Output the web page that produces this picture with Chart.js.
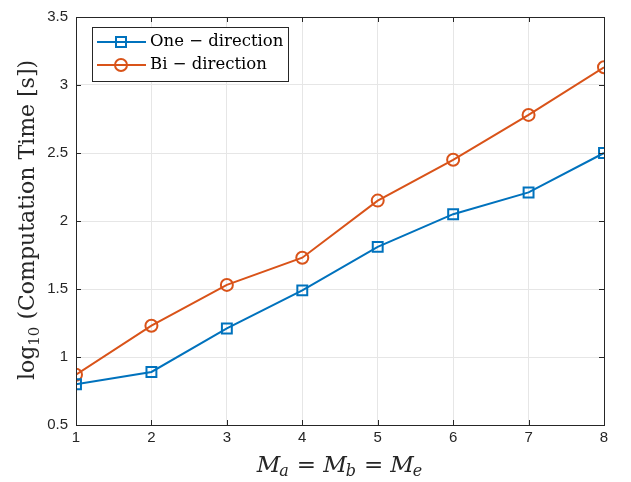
<!DOCTYPE html>
<html>
<head>
<meta charset="utf-8">
<script src="https://cdn.jsdelivr.net/npm/chart.js@4"></script>
<style>
  html, body { margin: 0; padding: 0; background: #fff; }
  #wrap { width: 631px; height: 482px; }
</style>
</head>
<body>
<div id="wrap"><canvas id="grafico" width="631" height="482"></canvas></div>
<script>
// datos
const tamanos = [1, 2, 3, 4, 5, 6, 7, 8];
const unaDireccion = [0.80, 0.89, 1.21, 1.49, 1.81, 2.05, 2.21, 2.50];
const biDireccion = [0.87, 1.23, 1.53, 1.73, 2.15, 2.45, 2.78, 3.13];
const etiquetasSerie = ["One \u2212 direction", "Bi \u2212 direction"];
const ticksY = [0.5, 1, 1.5, 2, 2.5, 3, 3.5];

const AZUL = '#0072BD';
const NARANJA = '#D95319';
const SERIF = '"DejaVu Serif", "Liberation Serif", serif';
const SANS = '"Liberation Sans", Arial, sans-serif';

function puntos(vals) {
  return tamanos.map(function (x, i) { return { x: x, y: vals[i] }; });
}

// caja, marcas interiores, titulos y leyenda estilo MATLAB
const estiloMatlab = {
  id: 'estiloMatlab',
  afterDraw(chart) {
    const ctx = chart.ctx;
    const a = chart.chartArea;
    const sx = chart.scales.x, sy = chart.scales.y;
    ctx.save();
    ctx.strokeStyle = '#262626';
    ctx.lineWidth = 1;
    ctx.strokeRect(a.left + 0.5, a.top + 0.5, a.right - a.left, a.bottom - a.top);
    ctx.beginPath();
    tamanos.forEach(function (v) {
      const px = Math.round(sx.getPixelForValue(v)) + 0.5;
      ctx.moveTo(px, a.bottom); ctx.lineTo(px, a.bottom - 5);
      ctx.moveTo(px, a.top); ctx.lineTo(px, a.top + 5);
    });
    ticksY.forEach(function (v) {
      const py = Math.round(sy.getPixelForValue(v)) + 0.5;
      ctx.moveTo(a.left, py); ctx.lineTo(a.left + 5, py);
      ctx.moveTo(a.right, py); ctx.lineTo(a.right - 5, py);
    });
    ctx.stroke();

    // titulo eje x: M_a = M_b = M_e
    ctx.fillStyle = '#262626';
    ctx.textBaseline = 'alphabetic';
    const partes = [['M', 'a'], ['=', null], ['M', 'b'], ['=', null], ['M', 'e']];
    const fG = 'italic 23px ' + SERIF, fS = 'italic 16px ' + SERIF, fN = '23px ' + SERIF;
    let ancho = 0;
    const medidas = partes.map(function (p) {
      let w;
      if (p[1]) {
        ctx.font = fG; const w1 = ctx.measureText(p[0]).width;
        ctx.font = fS; const w2 = ctx.measureText(p[1]).width;
        w = w1 + w2;
      } else {
        ctx.font = fN; w = ctx.measureText(p[0]).width + 14;
      }
      ancho += w; return w;
    });
    let x = (a.left + a.right) / 2 - ancho / 2;
    const yb = 472;
    partes.forEach(function (p, i) {
      if (p[1]) {
        ctx.font = fG; ctx.fillText(p[0], x, yb);
        const w1 = ctx.measureText(p[0]).width;
        ctx.font = fS; ctx.fillText(p[1], x + w1 - 1, yb + 4);
      } else {
        ctx.font = fN; ctx.fillText(p[0], x + 7, yb);
      }
      x += medidas[i];
    });

    // titulo eje y
    ctx.save();
    ctx.translate(34, 220);
    ctx.rotate(-Math.PI / 2);
    const t1 = 'log', t2 = '10', t3 = ' (Computation Time [s])';
    ctx.font = '22px ' + SERIF; const w1 = ctx.measureText(t1).width;
    ctx.font = '15px ' + SERIF; const w2 = ctx.measureText(t2).width;
    ctx.font = '22px ' + SERIF; const w3 = ctx.measureText(t3).width;
    let tx = -(w1 + w2 + w3) / 2;
    ctx.font = '22px ' + SERIF; ctx.fillText(t1, tx, 0); tx += w1;
    ctx.font = '15px ' + SERIF; ctx.fillText(t2, tx, 5); tx += w2;
    ctx.font = '22px ' + SERIF; ctx.fillText(t3, tx, 0);
    ctx.restore();

    // leyenda
    const lx = 92, ly = 27, lw = 196, lh = 54;
    ctx.fillStyle = '#fff';
    ctx.fillRect(lx, ly, lw, lh);
    ctx.strokeStyle = '#262626';
    ctx.strokeRect(lx + 0.5, ly + 0.5, lw, lh);
    const filas = [
      { color: AZUL, forma: 'rect', y: 42, texto: etiquetasSerie[0] },
      { color: NARANJA, forma: 'circle', y: 65, texto: etiquetasSerie[1] }
    ];
    filas.forEach(function (f) {
      ctx.strokeStyle = f.color; ctx.lineWidth = 2;
      ctx.beginPath(); ctx.moveTo(97, f.y); ctx.lineTo(146, f.y); ctx.stroke();
      ctx.beginPath();
      if (f.forma === 'rect') ctx.rect(116, f.y - 5, 10, 10);
      else ctx.arc(121, f.y, 6, 0, Math.PI * 2);
      ctx.stroke();
      ctx.fillStyle = '#000';
      ctx.font = '16.5px ' + SERIF;
      ctx.textBaseline = 'middle';
      ctx.fillText(f.texto, 150, f.y);
    });
    ctx.restore();
  }
};

new Chart(document.getElementById('grafico'), {
  type: 'line',
  data: {
    datasets: [
      {
        label: etiquetasSerie[0],
        data: puntos(unaDireccion),
        borderColor: AZUL,
        backgroundColor: 'transparent',
        borderWidth: 2,
        pointStyle: 'rect',
        pointRadius: 7,
        pointBorderWidth: 2,
        pointBackgroundColor: 'transparent',
        pointBorderColor: AZUL,
        tension: 0
      },
      {
        label: etiquetasSerie[1],
        data: puntos(biDireccion),
        borderColor: NARANJA,
        backgroundColor: 'transparent',
        borderWidth: 2,
        pointStyle: 'circle',
        pointRadius: 6,
        pointBorderWidth: 2,
        pointBackgroundColor: 'transparent',
        pointBorderColor: NARANJA,
        tension: 0
      }
    ]
  },
  options: {
    responsive: false,
    animation: false,
    devicePixelRatio: 1,
    layout: { padding: { top: 13, right: 27, left: 0, bottom: 0 } },
    plugins: { legend: { display: false }, tooltip: { enabled: false } },
    scales: {
      x: {
        type: 'linear',
        min: 1, max: 8,
        afterBuildTicks: function (s) { s.ticks = tamanos.map(function (v) { return { value: v }; }); },
        afterFit: function (s) { s.height = 57; },
        grid: { color: '#e6e6e6', drawTicks: false },
        border: { display: false },
        ticks: { color: '#262626', font: { family: SANS, size: 15 }, padding: 4, maxRotation: 0 }
      },
      y: {
        min: 0.5, max: 3.5,
        afterBuildTicks: function (s) { s.ticks = ticksY.map(function (v) { return { value: v }; }); },
        afterFit: function (s) { s.width = 76; },
        grid: { color: '#e6e6e6', drawTicks: false },
        border: { display: false },
        ticks: {
          color: '#262626', font: { family: SANS, size: 15 }, padding: 8,
          callback: function (v) { return String(v); }
        }
      }
    }
  },
  plugins: [estiloMatlab]
});
</script>
</body>
</html>
